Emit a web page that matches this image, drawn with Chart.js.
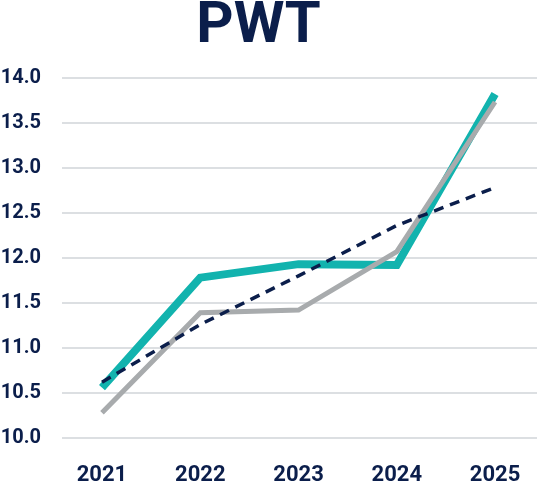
<!DOCTYPE html>
<html>
<head>
<meta charset="utf-8">
<script src="https://cdn.jsdelivr.net/npm/chart.js@4"></script>
<style>
  body { margin: 0; background: #fff; }
  #wrap { width: 537px; height: 492px; }
</style>
</head>
<body>
<div id="wrap"><canvas id="myChart"></canvas></div>
<script>
var years = [2021, 2022, 2023, 2024, 2025];
var tealData = [10.56, 11.78, 11.93, 11.92, 13.82];
var greyData = [10.28, 11.39, 11.42, 12.07, 13.73];
var trendData = [10.62, 11.26, 11.80, 12.36, 12.78];
var yTicks = [10.0, 10.5, 11.0, 11.5, 12.0, 12.5, 13.0, 13.5, 14.0];

const navy = "#0b1e4b";

function pts(values) {
  return years.map(function (yr, i) {
    return { x: yr, y: values[i] };
  });
}

// title sits a bit left of the canvas centre in the original
const titleShift = {
  id: "titleShift",
  afterLayout: function (chart) {
    if (chart.titleBlock) {
      chart.titleBlock.left = 0;
      chart.titleBlock.right = 517;
    }
  },
};

const data = {
  datasets: [
    {
      label: "Trend",
      data: pts(trendData),
      borderColor: navy,
      borderWidth: 3.5,
      borderDash: [10, 7],
      pointRadius: 0,
      fill: false,
    },
    {
      label: "Grey",
      data: pts(greyData),
      borderColor: "#a8abad",
      borderWidth: 5,
      pointRadius: 0,
      fill: false,
    },
    {
      label: "Teal",
      data: pts(tealData),
      borderColor: "#12b3ae",
      borderWidth: 8,
      pointRadius: 0,
      fill: false,
    },
  ],
};

const config = {
  type: "line",
  data: data,
  plugins: [titleShift],
  options: {
    responsive: true,
    maintainAspectRatio: false,
    animation: false,
    layout: { padding: 0 },
    plugins: {
      legend: { display: false },
      tooltip: { enabled: false },
      title: {
        display: true,
        text: "PWT",
        color: navy,
        font: { family: "Roboto", size: 58, weight: "bold", lineHeight: 0.96 },
        padding: { top: 0, bottom: 22 },
      },
    },
    scales: {
      x: {
        type: "linear",
        min: 2020.593,
        max: 2025.427,
        afterBuildTicks: function (scale) {
          scale.ticks = years.map(function (v) { return { value: v }; });
        },
        afterFit: function (scale) {
          scale.height = 54;
          scale.paddingLeft = 0;
          scale.paddingRight = 0;
        },
        grid: { display: false, drawTicks: false },
        border: { display: false },
        ticks: {
          color: navy,
          padding: 24,
          maxRotation: 0,
          font: { family: "Roboto", size: 22, weight: "bold" },
          callback: function (v) { return String(v); },
        },
      },
      y: {
        min: 10,
        max: 14,
        afterBuildTicks: function (scale) {
          scale.ticks = yTicks.map(function (v) { return { value: v }; });
        },
        afterFit: function (scale) {
          scale.width = 62;
          scale.paddingTop = 0;
          scale.paddingBottom = 0;
        },
        grid: { color: "#dcdfe2", lineWidth: 2, drawTicks: false },
        border: { display: false },
        ticks: {
          color: navy,
          padding: 21,
          font: { family: "Roboto", size: 20, weight: "bold" },
          callback: function (v) { return v.toFixed(1); },
        },
      },
    },
  },
};

new Chart(document.getElementById("myChart"), config);
</script>
</body>
</html>
